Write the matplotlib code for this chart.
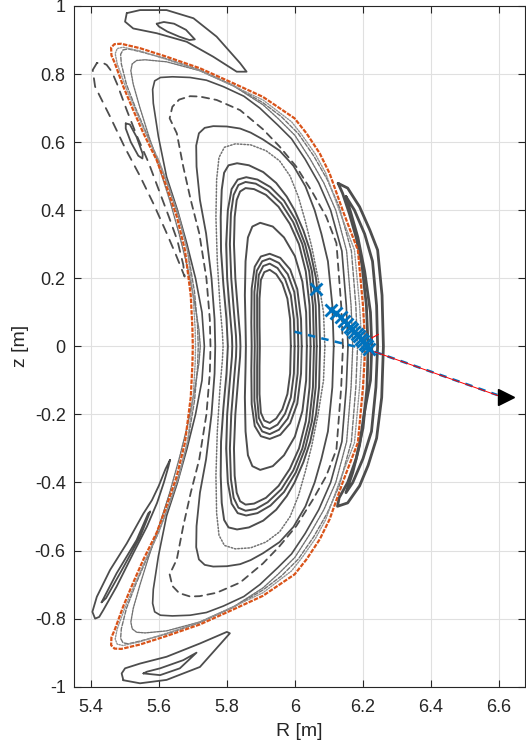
#! /usr/bin/env python3

'''
Poincare plot of the flux surfaces in the R-z plane,
with the line of sight and its sample points.
'''

import matplotlib
matplotlib.use('Agg')
import matplotlib.pyplot as plt
import matplotlib.ticker as mticker

# Closed surfaces: upper halves as (R, z), from the outboard midplane over
# the top to the inboard midplane. The lower half is the mirror image.
lcfs = [
    (6.207, 0.0), (6.200, 0.12), (6.185, 0.283), (6.166, 0.332),
    (6.141, 0.398), (6.102, 0.508), (6.073, 0.567), (6.034, 0.626),
    (5.999, 0.670), (5.906, 0.733), (5.819, 0.773), (5.721, 0.817),
    (5.623, 0.851), (5.545, 0.876), (5.490, 0.889), (5.470, 0.888),
    (5.460, 0.878), (5.461, 0.855), (5.471, 0.832), (5.496, 0.763),
    (5.525, 0.694), (5.555, 0.626), (5.594, 0.547), (5.623, 0.469),
    (5.653, 0.381), (5.677, 0.283), (5.694, 0.15), (5.699, 0.05),
    (5.700, 0.0),
]
edge_dotted = [
    (6.197, 0.0), (6.190, 0.12), (6.175, 0.283), (6.130, 0.40),
    (6.090, 0.51), (6.060, 0.565), (6.020, 0.622), (5.990, 0.66),
    (5.906, 0.724), (5.819, 0.765), (5.721, 0.81), (5.623, 0.843),
    (5.545, 0.868), (5.495, 0.879), (5.478, 0.875), (5.472, 0.86),
    (5.478, 0.83), (5.503, 0.762), (5.532, 0.693), (5.562, 0.625),
    (5.600, 0.546), (5.630, 0.468), (5.660, 0.38), (5.684, 0.283),
    (5.701, 0.15), (5.707, 0.05), (5.708, 0.0),
]
surf_a = [
    (6.184, 0.0), (6.179, 0.12), (6.166, 0.28), (6.130, 0.41),
    (6.095, 0.49), (6.055, 0.56), (6.010, 0.625), (5.960, 0.675),
    (5.906, 0.716), (5.820, 0.766), (5.720, 0.812), (5.623, 0.845),
    (5.545, 0.866), (5.510, 0.874), (5.495, 0.871), (5.488, 0.858),
    (5.490, 0.83), (5.505, 0.77), (5.532, 0.70), (5.562, 0.63),
    (5.600, 0.545), (5.630, 0.465), (5.660, 0.375), (5.685, 0.28),
    (5.705, 0.16), (5.714, 0.06), (5.716, 0.0),
]
surf_b = [
    (6.170, 0.0), (6.165, 0.12), (6.152, 0.28), (6.120, 0.40),
    (6.085, 0.48), (6.045, 0.55), (6.000, 0.62), (5.950, 0.67),
    (5.906, 0.71), (5.820, 0.765), (5.720, 0.81), (5.623, 0.836),
    (5.560, 0.842), (5.535, 0.84), (5.522, 0.83), (5.518, 0.81),
    (5.525, 0.77), (5.545, 0.70), (5.570, 0.62), (5.600, 0.53),
    (5.632, 0.43), (5.660, 0.33), (5.685, 0.23), (5.705, 0.13),
    (5.718, 0.05), (5.722, 0.0),
]
surf_c = [
    (6.156, 0.0), (6.151, 0.12), (6.138, 0.28), (6.105, 0.40),
    (6.070, 0.48), (6.030, 0.55), (5.990, 0.61), (5.950, 0.65),
    (5.897, 0.70), (5.850, 0.735), (5.790, 0.763), (5.740, 0.782),
    (5.692, 0.79), (5.640, 0.792), (5.605, 0.79), (5.588, 0.78),
    (5.582, 0.755), (5.584, 0.714), (5.599, 0.616), (5.623, 0.498),
    (5.655, 0.40), (5.683, 0.30), (5.708, 0.20), (5.727, 0.10),
    (5.734, 0.0),
]
surf_d = [
    (6.141, 0.0), (6.136, 0.12), (6.122, 0.303), (6.092, 0.381),
    (6.053, 0.45), (6.004, 0.528), (5.955, 0.587), (5.906, 0.638),
    (5.839, 0.694), (5.770, 0.724), (5.720, 0.734), (5.692, 0.735),
    (5.660, 0.725), (5.640, 0.704), (5.632, 0.67), (5.653, 0.626),
    (5.672, 0.528), (5.694, 0.43), (5.719, 0.332), (5.740, 0.20),
    (5.750, 0.08), (5.752, 0.0),
]
surf_e = [
    (6.114, 0.0), (6.110, 0.12), (6.097, 0.25), (6.078, 0.33),
    (6.058, 0.40), (6.031, 0.47), (5.996, 0.53), (5.955, 0.575),
    (5.906, 0.608), (5.870, 0.628), (5.839, 0.64), (5.800, 0.646),
    (5.760, 0.647), (5.735, 0.642), (5.718, 0.626), (5.710, 0.59),
    (5.711, 0.528), (5.721, 0.43), (5.739, 0.332), (5.755, 0.20),
    (5.764, 0.08), (5.766, 0.0),
]
surf_x = [
    (6.088, 0.0), (6.084, 0.10), (6.068, 0.20), (6.050, 0.29),
    (6.030, 0.37), (6.010, 0.44), (5.986, 0.50), (5.955, 0.545),
    (5.915, 0.575), (5.870, 0.592), (5.825, 0.595), (5.793, 0.585),
    (5.777, 0.555), (5.770, 0.49), (5.768, 0.38), (5.772, 0.25),
    (5.780, 0.12), (5.787, 0.04), (5.789, 0.0),
]
group_4 = [
    (6.074, 0.0), (6.071, 0.12), (6.062, 0.20), (6.045, 0.28),
    (6.025, 0.34), (5.999, 0.40), (5.976, 0.44), (5.945, 0.48),
    (5.907, 0.512), (5.865, 0.532), (5.830, 0.538), (5.805, 0.532),
    (5.792, 0.51), (5.785, 0.46), (5.782, 0.38), (5.783, 0.28),
    (5.790, 0.18), (5.799, 0.08), (5.803, 0.0),
]
group_3 = [
    (6.064, 0.0), (6.061, 0.12), (6.050, 0.22), (6.030, 0.30),
    (6.003, 0.37), (5.968, 0.428), (5.928, 0.468), (5.890, 0.49),
    (5.857, 0.497), (5.832, 0.49), (5.814, 0.462), (5.803, 0.40),
    (5.798, 0.30), (5.801, 0.20), (5.809, 0.10), (5.815, 0.03),
    (5.816, 0.0),
]
group_2 = [
    (6.056, 0.0), (6.053, 0.12), (6.042, 0.22), (6.022, 0.30),
    (5.995, 0.365), (5.960, 0.42), (5.920, 0.458), (5.885, 0.478),
    (5.855, 0.483), (5.834, 0.474), (5.820, 0.445), (5.812, 0.39),
    (5.809, 0.30), (5.813, 0.20), (5.821, 0.10), (5.827, 0.03),
    (5.828, 0.0),
]
group_1 = [
    (6.046, 0.0), (6.043, 0.12), (6.032, 0.22), (6.012, 0.30),
    (5.985, 0.36), (5.952, 0.41), (5.915, 0.445), (5.880, 0.462),
    (5.855, 0.465), (5.839, 0.455), (5.829, 0.43), (5.823, 0.38),
    (5.821, 0.30), (5.825, 0.20), (5.833, 0.10), (5.839, 0.03),
    (5.840, 0.0),
]
surf_g = [
    (6.035, 0.0), (6.033, 0.10), (6.022, 0.19), (6.000, 0.265),
    (5.968, 0.32), (5.935, 0.352), (5.898, 0.363), (5.875, 0.352),
    (5.862, 0.32), (5.855, 0.25), (5.853, 0.15), (5.855, 0.06),
    (5.856, 0.0),
]
core_4 = [
    (6.020, 0.0), (6.018, 0.08), (6.007, 0.168), (5.986, 0.226),
    (5.957, 0.26), (5.926, 0.272), (5.900, 0.264), (5.882, 0.234),
    (5.873, 0.17), (5.872, 0.07), (5.873, 0.0),
]
core_3 = [
    (6.010, 0.0), (6.008, 0.08), (5.998, 0.16), (5.979, 0.212),
    (5.953, 0.245), (5.926, 0.258), (5.904, 0.25), (5.888, 0.222),
    (5.881, 0.16), (5.881, 0.06), (5.882, 0.0),
]
core_2 = [
    (5.999, 0.0), (5.997, 0.08), (5.988, 0.15), (5.971, 0.198),
    (5.949, 0.23), (5.926, 0.243), (5.907, 0.236), (5.894, 0.21),
    (5.889, 0.15), (5.889, 0.06), (5.890, 0.0),
]
core_1 = [
    (5.988, 0.0), (5.986, 0.08), (5.978, 0.14), (5.963, 0.185),
    (5.945, 0.212), (5.926, 0.225), (5.910, 0.218), (5.900, 0.195),
    (5.896, 0.14), (5.896, 0.06), (5.897, 0.0),
]

# Island chains outside the last closed surface, full loops as (R, z)
island_top_outer = [
    (5.506, 0.979), (5.545, 0.988), (5.623, 0.988), (5.702, 0.964),
    (5.770, 0.910), (5.839, 0.832), (5.858, 0.807), (5.829, 0.807),
    (5.760, 0.851), (5.682, 0.895), (5.594, 0.920), (5.525, 0.934),
    (5.501, 0.954), (5.506, 0.979),
]
island_top_inner = [
    (5.594, 0.948), (5.615, 0.953), (5.645, 0.948), (5.680, 0.930),
    (5.706, 0.902), (5.690, 0.900), (5.660, 0.910), (5.625, 0.925),
    (5.600, 0.940), (5.594, 0.948),
]
island_bottom_outer = [
    (5.496, -0.981), (5.545, -0.990), (5.623, -0.980), (5.721, -0.942),
    (5.809, -0.843), (5.800, -0.839), (5.721, -0.873), (5.623, -0.912),
    (5.545, -0.932), (5.501, -0.946), (5.491, -0.961), (5.496, -0.981),
]
island_bottom_inner = [
    (5.555, -0.961), (5.604, -0.966), (5.662, -0.946), (5.711, -0.900),
    (5.672, -0.922), (5.604, -0.946), (5.565, -0.956), (5.555, -0.961),
]
island_left_up = [
    (5.418, 0.832), (5.406, 0.812), (5.413, 0.763), (5.457, 0.675),
    (5.500, 0.585), (5.545, 0.500), (5.584, 0.420), (5.620, 0.340),
    (5.650, 0.270), (5.676, 0.205), (5.672, 0.240), (5.655, 0.310),
    (5.630, 0.380), (5.600, 0.460), (5.570, 0.540), (5.535, 0.620),
    (5.506, 0.694), (5.478, 0.770), (5.462, 0.807), (5.447, 0.827),
    (5.432, 0.835), (5.418, 0.832),
]
island_left_small = [
    (5.503, 0.655), (5.515, 0.652), (5.535, 0.615), (5.553, 0.565),
    (5.552, 0.552), (5.540, 0.560), (5.518, 0.600), (5.503, 0.640),
    (5.503, 0.655),
]
island_left_low_outer = [
    (5.633, -0.334), (5.620, -0.360), (5.600, -0.410), (5.580, -0.452),
    (5.555, -0.491), (5.506, -0.579), (5.457, -0.657), (5.418, -0.736),
    (5.405, -0.780), (5.413, -0.800), (5.425, -0.795), (5.437, -0.775),
    (5.476, -0.706), (5.525, -0.608), (5.565, -0.530), (5.595, -0.460),
    (5.615, -0.400), (5.628, -0.355), (5.633, -0.334),
]
island_left_low_inner = [
    (5.432, -0.752), (5.476, -0.667), (5.535, -0.569), (5.569, -0.491),
    (5.575, -0.485), (5.545, -0.560), (5.490, -0.660), (5.445, -0.740),
    (5.432, -0.752),
]
island_right_outer = [
    (6.127, 0.479), (6.155, 0.465), (6.190, 0.410), (6.220, 0.342),
    (6.243, 0.283), (6.256, 0.150), (6.260, 0.0), (6.255, -0.150),
    (6.240, -0.270), (6.215, -0.350), (6.190, -0.410), (6.155, -0.460),
    (6.125, -0.470), (6.130, -0.445), (6.155, -0.400), (6.180, -0.330),
    (6.200, -0.240), (6.212, -0.120), (6.215, 0.0), (6.210, 0.120),
    (6.197, 0.240), (6.180, 0.320), (6.160, 0.390), (6.140, 0.450),
    (6.127, 0.479),
]
island_right_inner = [
    (6.150, 0.440), (6.175, 0.400), (6.205, 0.330), (6.228, 0.250),
    (6.240, 0.120), (6.243, 0.0), (6.238, -0.120), (6.225, -0.250),
    (6.200, -0.330), (6.170, -0.400), (6.150, -0.430), (6.170, -0.370),
    (6.190, -0.290), (6.203, -0.200), (6.222, -0.100), (6.226, 0.0),
    (6.222, 0.100), (6.205, 0.220), (6.185, 0.320), (6.165, 0.390),
    (6.150, 0.440),
]

# Line of sight and sample points
sample_R = [6.062, 6.107, 6.122, 6.134, 6.145, 6.153, 6.161, 6.168,
            6.175, 6.182, 6.189, 6.195, 6.201, 6.207, 6.212, 6.218]
sample_z = [0.168, 0.107, 0.097, 0.085, 0.074, 0.066, 0.058, 0.050,
            0.043, 0.036, 0.029, 0.022, 0.015, 0.008, 0.000, -0.008]
sight_R = [5.999, 6.220, 6.595]
sight_z = [0.043, -0.011, -0.143]
beam_R = [6.220, 6.600]
beam_z = [-0.011, -0.146]
arc_R = [6.245, 6.228, 6.215, 6.213, 6.218, 6.230]
arc_z = [0.035, 0.026, 0.012, -0.002, -0.014, -0.024]
port_R = [6.620]
port_z = [-0.148]

x_ticks = [5.4, 5.6, 5.8, 6.0, 6.2, 6.4, 6.6]
y_ticks = [-1, -0.8, -0.6, -0.4, -0.2, 0, 0.2, 0.4, 0.6, 0.8, 1]

dark = (0.30, 0.30, 0.30)
mid = (0.45, 0.45, 0.45)
light = (0.58, 0.58, 0.58)
orange = '#D95319'
blue = '#0072BD'
ink = (0.15, 0.15, 0.15)


def closed(half):
    '''Join an upper half with its mirror image below the midplane.'''
    r = [p[0] for p in half]
    z = [p[1] for p in half]
    return r + r[::-1], z + [-v for v in z[::-1]]


def loop(points):
    return [p[0] for p in points], [p[1] for p in points]


def main():
    plt.rcParams['font.family'] = ['Liberation Sans', 'DejaVu Sans']
    plt.rcParams['axes.unicode_minus'] = False
    fig = plt.figure(figsize=(5.26, 7.52), dpi=100)
    ax = fig.add_axes([74 / 526, 65.3 / 752, 451 / 526, 680.7 / 752])

    kw = dict(solid_joinstyle='round', solid_capstyle='round',
              dash_capstyle='round')
    surfaces = [
        (core_1, dark, '-', 1.4), (core_2, dark, '-', 1.4),
        (core_3, dark, '-', 1.4), (core_4, dark, '-', 1.4),
        (surf_g, dark, '-', 1.4),
        (group_1, dark, '-', 1.4), (group_2, dark, '-', 1.4),
        (group_3, dark, '-', 1.4), (group_4, dark, '-', 1.4),
        (surf_x, mid, (0, (1, 1.2)), 1.1),
        (surf_e, dark, '-', 1.3),
        (surf_d, dark, (0, (4, 3)), 1.3),
        (surf_c, dark, '-', 1.2),
        (surf_b, mid, (0, (1.5, 0.8)), 1.0),
        (surf_a, mid, (0, (3, 1.2)), 1.0),
        (edge_dotted, light, (0, (1, 1)), 1.0),
    ]
    for half, color, ls, lw in surfaces:
        r, z = closed(half)
        ax.plot(r, z, color=color, linestyle=ls, linewidth=lw, **kw)

    islands = [
        (island_top_outer, '-'), (island_top_inner, '-'),
        (island_bottom_outer, '-'), (island_bottom_inner, '-'),
        (island_left_up, (0, (5, 4))), (island_left_small, '-'),
        (island_left_low_outer, '-'), (island_left_low_inner, '-'),
    ]
    for points, ls in islands:
        r, z = loop(points)
        ax.plot(r, z, color=dark, linestyle=ls, linewidth=1.3, **kw)
    for points in (island_right_outer, island_right_inner):
        r, z = loop(points)
        ax.plot(r, z, color=dark, linewidth=2.0, **kw)

    r, z = closed(lcfs)
    ax.plot(r, z, color=orange, linestyle=(0, (2, 0.6)), linewidth=1.6)

    ax.plot(sight_R, sight_z, color=blue, linestyle=(0, (3, 2.5)),
            linewidth=1.8)
    ax.plot(beam_R, beam_z, color='red', linewidth=0.7)
    ax.plot(arc_R, arc_z, color='red', linewidth=0.8)
    ax.plot(sample_R, sample_z, linestyle='none', marker='x', color=blue,
            markersize=9, markeredgewidth=2)
    ax.plot(port_R, port_z, linestyle='none', marker='>', color='black',
            markersize=12)

    ax.set_xlim(5.351, 6.676)
    ax.set_ylim(-1, 1)
    ax.set_xticks(x_ticks)
    ax.set_yticks(y_ticks)
    fmt = mticker.FuncFormatter(lambda v, pos: f'{v:g}')
    ax.xaxis.set_major_formatter(fmt)
    ax.yaxis.set_major_formatter(fmt)
    ax.grid(True, color=(0.88, 0.88, 0.88), linewidth=0.8)
    ax.set_axisbelow(True)
    ax.tick_params(direction='in', length=5, width=0.8, top=True,
                   right=True, labelsize=13, colors=ink)
    ax.tick_params(axis='x', pad=9)
    ax.tick_params(axis='y', pad=6)
    for spine in ax.spines.values():
        spine.set_color(ink)
        spine.set_linewidth(0.8)
    ax.set_xlabel('R [m]', fontsize=14, color=ink, labelpad=5)
    ax.set_ylabel('z [m]', fontsize=14, color=ink, labelpad=4)
    fig.savefig('out.png', dpi=100)


if __name__ == '__main__':
    main()
